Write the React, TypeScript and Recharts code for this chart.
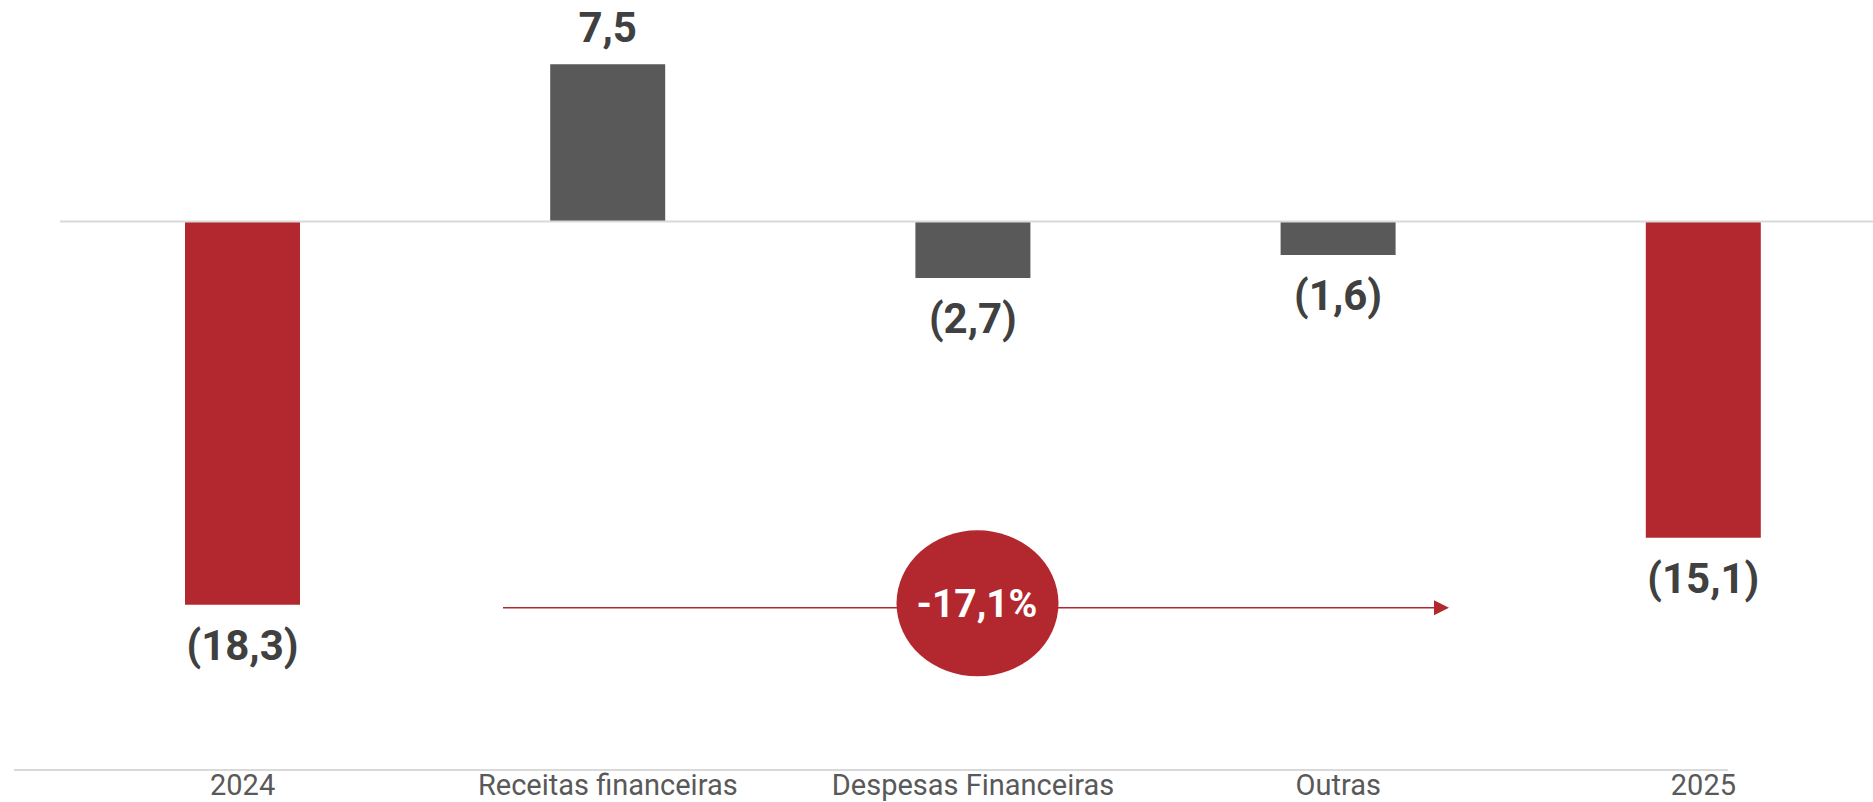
import React from "react";
import {
  BarChart,
  Bar,
  XAxis,
  YAxis,
  Cell,
  LabelList,
  ReferenceLine,
  ReferenceDot,
  Customized,
} from "recharts";

const categories = [
  "2024",
  "Receitas financeiras",
  "Despesas Financeiras",
  "Outras",
  "2025",
];
const values = [-18.3, 7.5, -2.7, -1.6, -15.1];
const isTotal = [true, false, false, false, true];
const changeLabel = "-17,1%";

const data = categories.map((name, i) => ({ name, value: values[i] }));

const RED = "#B3282F";
const GREY = "#595959";
const LABEL = "#404040";
const LINE = "#D9D9D9";
const FONT = "Roboto, 'Noto Sans', sans-serif";

const fmt = (v: number) => {
  const s = Math.abs(v).toFixed(1).replace(".", ",");
  return v < 0 ? `(${s})` : s;
};

function ValueLabel(props: any) {
  const { x, y, width, height, value } = props;
  const top = Math.min(y, y + height);
  const bottom = Math.max(y, y + height);
  const neg = value < 0;
  return (
    <text
      x={x + width / 2}
      y={neg ? bottom + 55 : top - 22}
      textAnchor="middle"
      fill={LABEL}
      fontSize={42}
      fontWeight={700}
      fontFamily={FONT}
    >
      {fmt(value)}
    </text>
  );
}

function CategoryTick({ x, y, payload }: any) {
  return (
    <text
      x={x}
      y={y}
      dy={29}
      textAnchor="middle"
      fill={GREY}
      fontSize={29}
      fontFamily={FONT}
    >
      {payload.value}
    </text>
  );
}

// arrow across the middle bars with the change badge
function ChangeBadge({ cx, cy }: any) {
  const x1 = cx - 470;
  const x2 = cx + 461;
  return (
    <g>
      <line x1={x1} y1={cy} x2={x2} y2={cy} stroke={RED} strokeWidth={1.5} />
      <polygon
        points={`${x2},${cy - 7.5} ${x2 + 15},${cy} ${x2},${cy + 7.5}`}
        fill={RED}
      />
      <ellipse cx={cx + 4.5} cy={cy - 4.5} rx={81} ry={73} fill={RED} />
      <text
        x={cx + 4}
        y={cy + 9}
        textAnchor="middle"
        fill="#FFFFFF"
        fontSize={39}
        fontWeight={700}
        fontFamily={FONT}
      >
        {changeLabel}
      </text>
    </g>
  );
}

export default function App() {
  return (
    <div
      style={{
        position: "absolute",
        left: 0,
        top: 0,
        width: 1873,
        height: 802,
        overflow: "hidden",
        background: "#fff",
      }}
    >
      <BarChart
        width={1890}
        height={802}
        data={data}
        margin={{ top: 12, right: 4, bottom: 0, left: 60 }}
      >
        <XAxis
          dataKey="name"
          height={36}
          axisLine={false}
          tickLine={false}
          tickSize={0}
          tickMargin={0}
          interval={0}
          tick={<CategoryTick />}
        />
        <YAxis hide type="number" domain={[-26, 10]} allowDataOverflow />
        <ReferenceLine y={0} stroke={LINE} strokeWidth={2} />
        <Bar dataKey="value" barSize={115} isAnimationActive={false}>
          {data.map((d, i) => (
            <Cell key={d.name} fill={isTotal[i] ? RED : GREY} />
          ))}
          <LabelList dataKey="value" content={<ValueLabel />} />
        </Bar>
        <ReferenceDot
          x="Despesas Financeiras"
          y={-18.45}
          r={0}
          ifOverflow="visible"
          shape={(p: any) => <ChangeBadge cx={p.cx} cy={p.cy} />}
        />
        <Customized
          component={() => (
            <line x1={14} y1={770} x2={1728} y2={770} stroke={LINE} strokeWidth={2} />
          )}
        />
      </BarChart>
    </div>
  );
}
